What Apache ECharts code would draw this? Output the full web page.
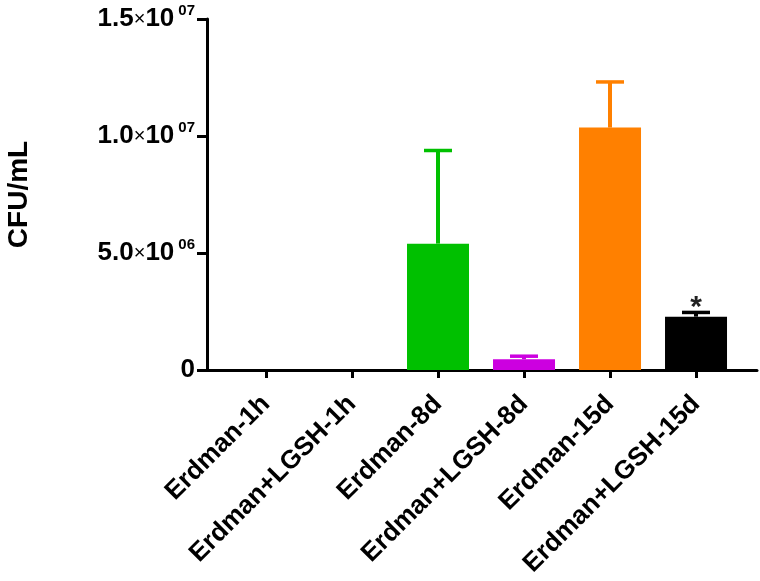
<!DOCTYPE html>
<html>
<head>
<meta charset="utf-8">
<script src="https://cdn.jsdelivr.net/npm/echarts@6/dist/echarts.min.js"></script>
<style>
	html, body { margin: 0; padding: 0; background: #fff; }
	#chart { width: 760px; height: 581px; }
</style>
</head>
<body>
<div id="chart"></div>
<script>
// 分组名称
const categories = ['Erdman-1h', 'Erdman+LGSH-1h', 'Erdman-8d', 'Erdman+LGSH-8d', 'Erdman-15d', 'Erdman+LGSH-15d'];
// 均值 (CFU/mL)
const means = [0, 0, 5.4e6, 4.6e5, 1.036e7, 2.28e6];
// 误差 (SD, 只画上方)
const errors = [0, 0, 3.98e6, 1.3e5, 1.95e6, 1.8e5];
// 显著性标记
const marks = ['', '', '', '', '', '*'];
// y轴刻度
const yTicks = [0, 5e6, 1e7, 1.5e7];
const barColors = ['#000000', '#000000', '#00c000', '#cc00e0', '#ff8000', '#000000'];

const FONT = 'Liberation Sans, Arial, sans-serif';

// 1.5×10^07 这种写法
function sciLabel(v) {
	if (v === 0) return '{m|0}';
	let e = Math.floor(Math.log10(v));
	let m = v / Math.pow(10, e);
	return '{m|' + m.toFixed(1) + '}{x|×}{m|10}{e|' + (e < 10 ? '0' : '') + e + '}';
}

let myChart = echarts.init(document.getElementById('chart'));
myChart.setOption({
	animation: false,
	grid: {
		left: 207,
		right: 3,
		top: 19,
		bottom: 211,
		outerBoundsMode: 'none'
	},
	xAxis: {
		type: 'value',
		min: -0.686,
		max: 5.709,
		splitLine: { show: false },
		axisLine: { show: true, onZero: false, lineStyle: { color: '#000', width: 3 } },
		axisTick: { show: true, customValues: categories.map((c, i) => i), length: 8, lineStyle: { color: '#000', width: 3 } },
		axisLabel: {
			customValues: categories.map((c, i) => i),
			formatter: v => categories[Math.round(v)],
			rotate: 45,
			margin: 30,
			color: '#000',
			fontFamily: FONT,
			fontWeight: 'bold',
			fontSize: 26
		}
	},
	yAxis: {
		type: 'value',
		min: 0,
		max: yTicks[yTicks.length - 1],
		interval: 5e6,
		name: 'CFU/mL',
		nameLocation: 'middle',
		nameRotate: 90,
		nameGap: 174,
		nameTextStyle: { color: '#000', fontFamily: FONT, fontWeight: 'bold', fontSize: 28 },
		splitLine: { show: false },
		axisLine: { show: true, onZero: false, lineStyle: { color: '#000', width: 3 } },
		axisTick: { show: true, length: 10, lineStyle: { color: '#000', width: 3 } },
		axisLabel: {
			margin: 12,
			formatter: sciLabel,
			rich: {
				m: { fontFamily: FONT, fontWeight: 'bold', fontSize: 26, color: '#000' },
				x: { fontFamily: FONT, fontWeight: 'normal', fontSize: 20, color: '#000' },
				e: { fontFamily: FONT, fontWeight: 'bold', fontSize: 15, color: '#000', padding: [0, 0, 16, 4] }
			}
		}
	},
	series: [
		{
			type: 'bar',
			barWidth: 62,
			data: means.map((v, i) => ({ value: [i, v], itemStyle: { color: barColors[i] } }))
		},
		{
			type: 'custom',
			data: means.map((v, i) => [i, v, errors[i]]),
			renderItem: function (params, api) {
				let i = params.dataIndex;
				let x = api.value(0), m = api.value(1), e = api.value(2);
				let base = api.coord([x, m]);
				let top = api.coord([x, m + e]);
				let children = [];
				if (e > 0) {
					children.push({
						type: 'line',
						shape: { x1: base[0], y1: base[1], x2: top[0], y2: top[1] },
						style: { stroke: barColors[i], lineWidth: 4 }
					});
					children.push({
						type: 'line',
						shape: { x1: top[0] - 14, y1: top[1], x2: top[0] + 14, y2: top[1] },
						style: { stroke: barColors[i], lineWidth: 3.5 }
					});
				}
				if (marks[i]) {
					children.push({
						type: 'text',
						x: top[0],
						y: top[1] + 10,
						style: { text: marks[i], textAlign: 'center', textVerticalAlign: 'bottom', font: 'bold 30px ' + FONT, fill: '#222' }
					});
				}
				return { type: 'group', children: children };
			}
		}
	]
});
</script>
</body>
</html>
